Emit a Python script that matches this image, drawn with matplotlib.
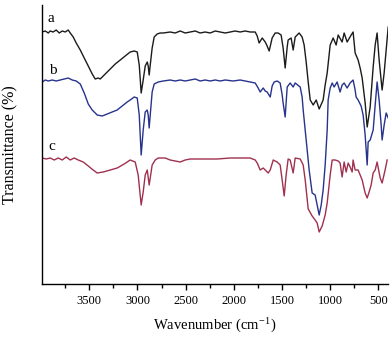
import matplotlib
matplotlib.use("Agg")
import matplotlib.pyplot as plt
from matplotlib.ticker import MultipleLocator

plt.rcParams['font.family'] = ['Liberation Serif', 'DejaVu Serif']
plt.rcParams['mathtext.fontset'] = 'stix'

# ---- data (wavenumber in cm^-1, transmittance in arbitrary units) ----
a_wn = [3987, 3956, 3925, 3905, 3874, 3843, 3811, 3780, 3749, 3718, 3697, 3666, 3635, 3593, 3552,
        3510, 3469, 3438, 3407, 3386, 3365, 3334, 3282, 3230, 3178, 3127, 3075, 3033, 3002, 2981,
        2961, 2940, 2919, 2898, 2888, 2878, 2867, 2847, 2826, 2795, 2764, 2732, 2660, 2608, 2556,
        2504, 2452, 2400, 2349, 2297, 2245, 2193, 2141, 2089, 2037, 1986, 1934, 1882, 1830, 1778,
        1757, 1737, 1705, 1674, 1654, 1633, 1602, 1571,
        1540, 1509, 1488, 1467, 1446, 1436, 1405, 1384, 1363, 1322, 1291, 1270, 1249, 1228, 1207,
        1176, 1145, 1114, 1073, 1052, 1031, 1000, 969, 938, 917, 876, 855, 824, 782, 762, 741, 710,
        689, 668, 637, 616, 585, 554, 533, 513, 492, 461, 440, 419, 398]
a_t = [252, 253, 251, 253, 252, 254, 251, 253, 252, 254, 251, 247, 241, 234, 226,
       218, 210, 205, 206, 205, 207, 210, 215, 220, 224, 228, 232, 233, 232, 219,
       191, 204, 218, 222, 218, 209, 219, 236, 247, 250, 251, 251, 252, 251, 253,
       251, 252, 253, 251, 252, 251, 253, 252, 251, 252, 253, 252, 253, 252, 252,
       248, 241, 246, 242, 238, 233, 246, 251,
       251, 249, 236, 216, 237, 244, 246, 234, 247, 251, 247, 239, 222, 202, 184,
       179, 184, 175, 184, 199, 211, 239, 246, 239, 249, 242, 251, 242, 249, 252, 231, 224,
       216, 206, 181, 157, 177, 217, 239, 251, 224, 194, 211, 234, 257]

b_wn = [3987, 3956, 3925, 3884, 3843, 3801, 3759, 3718, 3676, 3635, 3593, 3552, 3510, 3469, 3417,
        3365, 3313, 3262, 3210, 3158, 3106, 3075, 3033, 3002, 2981, 2961, 2940, 2919, 2898, 2888,
        2878, 2867, 2847, 2826, 2784, 2732, 2660, 2608, 2556, 2504, 2452, 2400, 2349, 2297, 2245,
        2193, 2141, 2089, 2006, 1934, 1882, 1830, 1778,
        1747, 1726, 1695, 1674, 1654, 1622, 1602, 1581, 1550, 1519, 1498, 1488, 1467, 1446, 1415,
        1384, 1363, 1311, 1291, 1280, 1249, 1218, 1187, 1156, 1135, 1114, 1093, 1073, 1052, 1031,
        1021, 1000, 979, 959, 928, 897, 876, 855, 824, 793, 762, 741, 731, 710, 679, 658, 637, 616,
        606, 585, 554, 533, 513, 492, 471, 461, 440, 419, 398]
b_t = [202, 204, 203, 204, 203, 204, 205, 206, 204, 203, 200, 191, 180, 174, 169,
       168, 170, 172, 174, 178, 182, 184, 187, 186, 169, 129, 154, 172, 174, 169,
       156, 169, 192, 200, 202, 203, 204, 203, 204, 203, 204, 205, 203, 204, 203,
       204, 203, 204, 203, 204, 203, 202, 201,
       196, 192, 196, 193, 192, 187, 198, 202, 203, 201, 189, 181, 167, 197, 201,
       197, 201, 197, 187, 174, 144, 114, 91, 89, 79, 69, 79, 94, 119, 154,
       184, 196, 201, 197, 202, 192, 199, 201, 196, 201, 204, 194, 187, 184, 178, 169, 149, 119,
       142, 144, 154, 179, 202, 184, 159, 144, 159, 171, 166]

c_wn = [3987, 3946, 3905, 3863, 3822, 3780, 3739, 3697, 3656, 3614, 3562, 3510, 3459, 3417, 3355,
        3282, 3210, 3137, 3075, 3023, 2992, 2961, 2940, 2919, 2898, 2878, 2867, 2847, 2815, 2784,
        2712, 2660, 2608, 2556, 2504, 2452, 2349, 2172, 2037, 1830, 1778, 1757, 1726, 1695, 1674,
        1643, 1622, 1591, 1550, 1519, 1498, 1477, 1457, 1436, 1415, 1384, 1363, 1311, 1280, 1259,
        1228, 1187, 1156, 1135, 1114, 1083, 1052, 1031, 1000, 979, 948, 917, 897, 876, 855, 834,
        813, 793, 772, 762, 741, 710, 668, 637, 616, 596, 575, 554, 533, 513, 481, 461, 430, 409]
c_t = [126, 125, 126, 124, 126, 124, 127, 124, 126, 124, 122, 118, 114, 111, 112,
       114, 116, 120, 124, 122, 109, 79, 92, 109, 114, 99, 106, 119, 124, 126,
       126, 124, 123, 122, 124, 125, 125, 125, 126, 126, 124, 121, 114, 116, 114,
       111, 114, 124, 122, 119, 104, 88, 109, 125, 124, 111, 126, 125, 119, 104,
       75, 68, 64, 61, 52, 58, 69, 81, 109, 124, 124, 123, 121, 107, 122, 112,
       121, 117, 112, 124, 114, 114, 104, 91, 86, 92, 99, 111, 114, 122, 106, 101, 114, 124]

labels = ['a', 'b', 'c']
label_wn = [3895, 3875, 3885]
label_t = [266, 213, 138]

colors = ['#1b1b1b', '#27338c', '#a0304f']

fig = plt.figure(figsize=(3.92, 3.40), dpi=100)
ax = fig.add_axes([42 / 392, 56 / 340, 346 / 392, 279 / 340])

for wn, t, col in zip([a_wn, b_wn, c_wn], [a_t, b_t, c_t], colors):
    ax.plot(wn, t, color=col, lw=1.0)

for lab, x, y in zip(labels, label_wn, label_t):
    ax.text(x, y, lab, fontsize=11, ha='center', va='center')

ax.set_xlim(3990, 400)
ax.set_ylim(0, 279)
ax.xaxis.set_major_locator(MultipleLocator(500))
ax.xaxis.set_minor_locator(MultipleLocator(250))
ax.set_xticks([3500, 3000, 2500, 2000, 1500, 1000, 500])
ax.set_yticks([])
ax.tick_params(axis='x', which='major', direction='out', length=4, width=1, labelsize=9, pad=4)
ax.tick_params(axis='x', which='minor', direction='out', length=3, width=1)
for s in ['top', 'right']:
    ax.spines[s].set_visible(False)
for s in ['left', 'bottom']:
    ax.spines[s].set_linewidth(1.0)

ax.set_xlabel(r'Wavenumber (cm$^{\mathregular{-1}}$)', fontsize=10.5, labelpad=6)
ax.set_ylabel('Transmittance (%)', fontsize=11.5, labelpad=17)

fig.savefig('out.png', dpi=100)
